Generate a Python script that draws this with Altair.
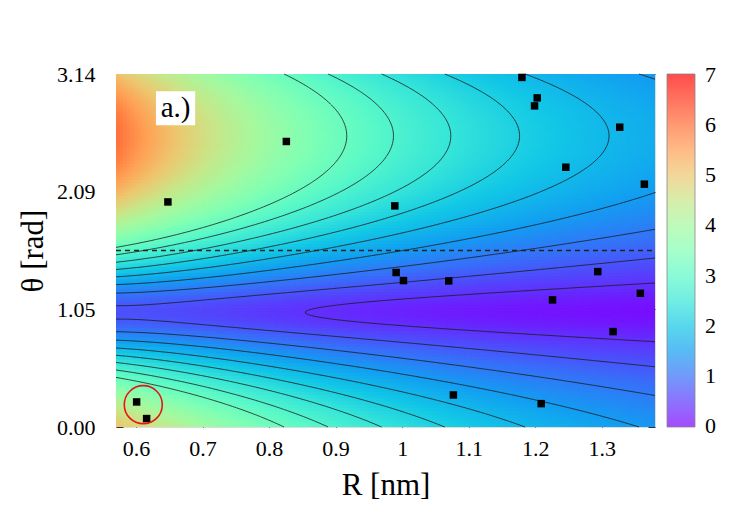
import numpy as np
import pandas as pd
import altair as alt

alt.data_transformers.disable_max_rows()

FONT = "Liberation Serif"

# Plot ranges
R_RANGE = [0.57, 1.38]
THETA_RANGE = [0.0, float(np.pi)]
R_TICKS = [0.6, 0.7, 0.8, 0.9, 1.0, 1.1, 1.2, 1.3]
THETA_TICKS = [0.0, np.pi / 3, 2 * np.pi / 3, np.pi]

# Energy surface V(R, θ) = base(R) + amp(R) * sqrt(sin²(θ - θ_min) + eps(R)²)
#   base(R) = base_inf - base_0 * exp(-fast * (R - R_min))
#   amp(R)  = amp_inf + amp_0 * exp(-decay * (R - R_min)) + amp_1 * exp(-fast * (R - R_min))
#   eps(R)  = eps_inf + eps_0 * exp(-decay * (R - R_min))
BASE_INF = -0.036
BASE_0 = 0.54
FAST_DECAY = 10.0
AMP_INF = 0.86
AMP_0 = 4.99
AMP_1 = 0.6
DECAY = 2.2
EPS_INF = 0.07
EPS_0 = 0.13
THETA_MIN = 1.02

CONTOUR_LEVELS = [0.43, 0.77, 1.12, 1.46, 1.81, 2.15, 2.49, 2.84, 3.18]

# Sampled configurations
POINT_R = [1.180, 1.203, 1.199, 1.327, 1.246, 1.364, 0.989, 0.826, 0.648, 0.991,
           1.002, 1.070, 1.294, 1.226, 1.358, 1.317, 1.077, 1.209, 0.601, 0.616]
POINT_THETA = [3.111, 2.929, 2.858, 2.668, 2.312, 2.161, 1.968, 2.541, 2.003, 1.375,
               1.303, 1.300, 1.383, 1.131, 1.190, 0.849, 0.285, 0.208, 0.223, 0.075]

# Highlighted pair
HIGHLIGHT_R = [0.611]
HIGHLIGHT_THETA = [0.199]

# Reference angle
DASHED_THETA = float(np.pi / 2)

# Panel label box (data coordinates)
LABEL_TEXT = "a.)"
LABEL_BOX_R = [0.630, 0.689]
LABEL_BOX_THETA = [2.686, 2.989]

# Rainbow colour map over 0 .. 7 (end stops nudged a hair outward so the
# 0 and 7 colour-bar labels sit centred on the bar ends)
COLOR_STOPS = [-0.01, 0.5, 1, 1.5, 2, 2.5, 3, 3.5, 4, 4.5, 5, 5.5, 6, 6.5, 7.01]
COLOR_HEX = ["#8000ff", "#5b39fd", "#376ff9", "#129ff1", "#12c7e6", "#37e6d8",
             "#5bf9c7", "#80ffb4", "#a4f99f", "#c8e688", "#edc76f", "#ff9f54",
             "#ff6f39", "#ff391d", "#ff0000"]
LEGEND_VALUES = [0, 1, 2, 3, 4, 5, 6, 7]


def surface(r, t):
    x = r - R_RANGE[0]
    base = BASE_INF - BASE_0 * np.exp(-FAST_DECAY * x)
    amp = AMP_INF + AMP_0 * np.exp(-DECAY * x) + AMP_1 * np.exp(-FAST_DECAY * x)
    eps = EPS_INF + EPS_0 * np.exp(-DECAY * x)
    return base + amp * np.sqrt(np.sin(t - THETA_MIN) ** 2 + eps ** 2)


# ---- heat map cells (slightly overlapping so no seams show)
n_r, n_t = 150, 110
r_edges = np.linspace(R_RANGE[0], R_RANGE[1], n_r + 1)
t_edges = np.linspace(THETA_RANGE[0], THETA_RANGE[1], n_t + 1)
dr = r_edges[1] - r_edges[0]
dt = t_edges[1] - t_edges[0]
rc = 0.5 * (r_edges[:-1] + r_edges[1:])
tc = 0.5 * (t_edges[:-1] + t_edges[1:])
RR0, TT0 = np.meshgrid(r_edges[:-1], t_edges[:-1])
RR1, TT1 = np.meshgrid(r_edges[1:], t_edges[1:])
RC, TC = np.meshgrid(rc, tc)
heat = pd.DataFrame({
    "r0": np.round(RR0.ravel(), 5),
    "r1": np.round(np.minimum(RR1.ravel() + 0.4 * dr, R_RANGE[1]), 5),
    "t0": np.round(TT0.ravel(), 5),
    "t1": np.round(np.minimum(TT1.ravel() + 0.4 * dt, THETA_RANGE[1]), 5),
    "V": np.round(surface(RC, TC).ravel(), 3),
})


# ---- contour segments (marching squares)
def contour_segments(r_vals, t_vals, field, level):
    z00 = field[:-1, :-1]
    z10 = field[:-1, 1:]
    z01 = field[1:, :-1]
    z11 = field[1:, 1:]
    shape = z00.shape
    r0 = r_vals[:-1][None, :]
    r1 = r_vals[1:][None, :]
    t0 = t_vals[:-1][:, None]
    t1 = t_vals[1:][:, None]

    def frac(za, zb):
        with np.errstate(divide="ignore", invalid="ignore"):
            f = (level - za) / (zb - za)
        return ((za - level) * (zb - level) < 0), f

    edges = []
    ok, f = frac(z00, z10)
    edges.append((ok, np.broadcast_to(r0 + f * (r1 - r0), shape), np.broadcast_to(t0, shape)))
    ok, f = frac(z10, z11)
    edges.append((ok, np.broadcast_to(r1, shape), np.broadcast_to(t0 + f * (t1 - t0), shape)))
    ok, f = frac(z01, z11)
    edges.append((ok, np.broadcast_to(r0 + f * (r1 - r0), shape), np.broadcast_to(t1, shape)))
    ok, f = frac(z00, z01)
    edges.append((ok, np.broadcast_to(r0, shape), np.broadcast_to(t0 + f * (t1 - t0), shape)))

    count = sum(e[0].astype(int) for e in edges)
    rows = []
    for i, j in [(0, 1), (0, 2), (0, 3), (1, 2), (1, 3), (2, 3)]:
        m = edges[i][0] & edges[j][0] & (count == 2)
        rows.append(np.column_stack([edges[i][1][m], edges[i][2][m], edges[j][1][m], edges[j][2][m]]))
    for i, j in [(0, 3), (1, 2)]:
        m = count == 4
        rows.append(np.column_stack([edges[i][1][m], edges[i][2][m], edges[j][1][m], edges[j][2][m]]))
    return np.vstack(rows)


r_fine = np.linspace(R_RANGE[0], R_RANGE[1], 260)
t_fine = np.linspace(THETA_RANGE[0], THETA_RANGE[1], 240)
RF, TF = np.meshgrid(r_fine, t_fine)
field = surface(RF, TF)
segs = np.vstack([contour_segments(r_fine, t_fine, field, lv) for lv in CONTOUR_LEVELS])
contours = pd.DataFrame(np.round(segs, 5), columns=["ra", "ta", "rb", "tb"])

points = pd.DataFrame({"R": POINT_R, "theta": POINT_THETA})
highlight = pd.DataFrame({"R": HIGHLIGHT_R, "theta": HIGHLIGHT_THETA})
dashed = pd.DataFrame({"ra": [R_RANGE[0]], "rb": [R_RANGE[1]], "theta": [DASHED_THETA]})
label_df = pd.DataFrame({
    "ra": [LABEL_BOX_R[0]], "rb": [LABEL_BOX_R[1]],
    "ta": [LABEL_BOX_THETA[0]], "tb": [LABEL_BOX_THETA[1]],
    "rm": [sum(LABEL_BOX_R) / 2], "tm": [sum(LABEL_BOX_THETA) / 2],
    "text": [LABEL_TEXT],
})

x_scale = alt.Scale(domain=R_RANGE, nice=False, zero=False)
y_scale = alt.Scale(domain=THETA_RANGE, nice=False, zero=False)
color_scale = alt.Scale(domain=COLOR_STOPS, range=COLOR_HEX, interpolate="rgb")

tick_common = dict(offset=-7, tickSize=7, tickColor="#333333", tickWidth=1,
                   domain=False, grid=False)

x_axis_bottom = alt.Axis(
    values=R_TICKS, format="~g", orient="bottom", title="R [nm]",
    labelFont=FONT, labelFontSize=22, labelPadding=11, labelColor="black",
    titleFont=FONT, titleFontSize=31, titleFontWeight="normal", titlePadding=11,
    titleColor="black", **tick_common)
y_axis_left = alt.Axis(
    values=THETA_TICKS, format=".2f", orient="left", title="θ [rad]",
    labelFont=FONT, labelFontSize=22, labelPadding=21, labelColor="black",
    titleFont=FONT, titleFontSize=31, titleFontWeight="normal", titlePadding=7,
    titleColor="black", **tick_common)
x_axis_top = alt.Axis(values=R_TICKS, orient="top", labels=False, title=None, **tick_common)
y_axis_right = alt.Axis(values=THETA_TICKS, orient="right", labels=False, title=None, **tick_common)

heatmap = alt.Chart(heat).mark_rect(clip=True).encode(
    x=alt.X("r0:Q", scale=x_scale, axis=x_axis_bottom),
    x2="r1:Q",
    y=alt.Y("t0:Q", scale=y_scale, axis=y_axis_left),
    y2="t1:Q",
    color=alt.Color("V:Q", scale=color_scale, legend=alt.Legend(
        type="gradient", title=None, orient="none", legendX=551, legendY=0,
        direction="vertical", gradientLength=353, gradientThickness=28,
        values=LEGEND_VALUES, labelOverlap=False, format="d",
        labelFont=FONT, labelFontSize=22, labelOffset=10, labelColor="black",
        gradientOpacity=0.7, gradientStrokeColor="#555555", gradientStrokeWidth=0.8)),
)

contour_layer = alt.Chart(contours).mark_rule(color="#1a1a1a", strokeWidth=0.8).encode(
    x=alt.X("ra:Q", scale=x_scale, axis=None),
    y=alt.Y("ta:Q", scale=y_scale, axis=None),
    x2="rb:Q",
    y2="tb:Q",
)

dashed_layer = alt.Chart(dashed).mark_rule(
    color="#222222", strokeWidth=1.5, strokeDash=[5, 4]
).encode(
    x=alt.X("ra:Q", scale=x_scale, axis=x_axis_top),
    x2="rb:Q",
    y=alt.Y("theta:Q", scale=y_scale, axis=y_axis_right),
)

point_layer = alt.Chart(points).mark_square(size=56, color="black", opacity=1).encode(
    x=alt.X("R:Q", scale=x_scale, axis=None),
    y=alt.Y("theta:Q", scale=y_scale, axis=None),
)

circle_layer = alt.Chart(highlight).mark_point(
    shape="circle", filled=False, stroke="#e8141b", strokeWidth=1.6, size=1444, opacity=1
).encode(
    x=alt.X("R:Q", scale=x_scale, axis=None),
    y=alt.Y("theta:Q", scale=y_scale, axis=None),
)

label_box = alt.Chart(label_df).mark_rect(color="white").encode(
    x=alt.X("ra:Q", scale=x_scale, axis=None),
    x2="rb:Q",
    y=alt.Y("ta:Q", scale=y_scale, axis=None),
    y2="tb:Q",
)
label_text = alt.Chart(label_df).mark_text(font=FONT, fontSize=29, color="black").encode(
    x=alt.X("rm:Q", scale=x_scale, axis=None),
    y=alt.Y("tm:Q", scale=y_scale, axis=None),
    text="text:N",
)

chart = alt.layer(
    heatmap, contour_layer, dashed_layer, point_layer, circle_layer, label_box, label_text
).resolve_axis(
    x="independent", y="independent"
).properties(
    width=539, height=353,
    autosize=alt.AutoSizeParams(type="none"),
    padding={"left": 116, "top": 74, "right": 95, "bottom": 98},
).configure_view(stroke=None).configure(background="white")

chart.save("out.html", embed_options={"renderer": "svg", "actions": False})
